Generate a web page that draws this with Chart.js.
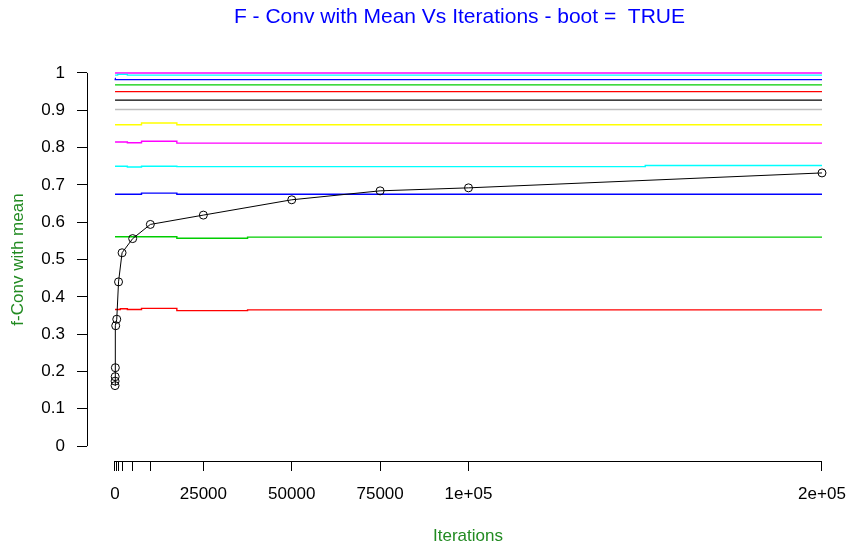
<!DOCTYPE html>
<html>
<head>
<meta charset="utf-8">
<script src="https://cdn.jsdelivr.net/npm/chart.js@4.4.1/dist/chart.umd.min.js"></script>
<style>
  body { margin: 0; background: #fff; }
</style>
</head>
<body>
<canvas id="myChart" width="849" height="548"></canvas>
<script>
// iterations and mean convergence (black line with circles)
const iterations = [10, 20, 50, 100, 200, 500, 1000, 2000, 5000, 10000, 25000, 50000, 75000, 100000, 200000];
const fConvMean = [0.162, 0.174, 0.186, 0.21, 0.3225, 0.34, 0.44, 0.518, 0.556, 0.594, 0.619, 0.66, 0.684, 0.692, 0.732];

// reference levels (coloured step lines), bottom to top
const level1 = [0.366, 0.366, 0.366, 0.366, 0.366, 0.366, 0.366, 0.368, 0.366, 0.369, 0.363, 0.365, 0.365, 0.365, 0.365];
const level2 = [0.561, 0.561, 0.561, 0.561, 0.561, 0.561, 0.561, 0.561, 0.561, 0.561, 0.557, 0.560, 0.560, 0.560, 0.560];
const level3 = [0.675, 0.675, 0.675, 0.675, 0.675, 0.675, 0.675, 0.675, 0.675, 0.678, 0.675, 0.675, 0.675, 0.675, 0.675];
const level4 = [0.750, 0.750, 0.750, 0.750, 0.750, 0.750, 0.750, 0.750, 0.748, 0.750, 0.749, 0.749, 0.749, 0.749, 0.752];
const level5 = [0.815, 0.815, 0.815, 0.815, 0.815, 0.815, 0.815, 0.815, 0.813, 0.817, 0.812, 0.812, 0.812, 0.812, 0.812];
const level6 = [0.861, 0.861, 0.861, 0.861, 0.861, 0.861, 0.861, 0.861, 0.861, 0.866, 0.861, 0.861, 0.861, 0.861, 0.861];
const level7 = [0.902, 0.902, 0.902, 0.902, 0.902, 0.902, 0.902, 0.902, 0.902, 0.902, 0.902, 0.902, 0.902, 0.902, 0.902];
const level8 = [0.927, 0.927, 0.927, 0.927, 0.927, 0.927, 0.927, 0.927, 0.927, 0.927, 0.927, 0.927, 0.927, 0.927, 0.927];
const level9 = [0.950, 0.950, 0.950, 0.950, 0.950, 0.950, 0.950, 0.950, 0.950, 0.950, 0.950, 0.950, 0.950, 0.950, 0.950];
const level10 = [0.968, 0.968, 0.968, 0.968, 0.968, 0.968, 0.968, 0.968, 0.968, 0.968, 0.968, 0.968, 0.968, 0.968, 0.968];
const level11 = [0.985, 0.985, 0.985, 0.982, 0.982, 0.982, 0.982, 0.982, 0.982, 0.982, 0.982, 0.982, 0.982, 0.982, 0.982];
const level12 = [0.994, 0.994, 0.994, 0.994, 0.994, 0.994, 0.996, 0.996, 0.994, 0.994, 0.994, 0.994, 0.994, 0.994, 0.994];
const level13 = [1.0, 1.0, 1.0, 1.0, 1.0, 1.0, 1.0, 1.0, 1.0, 1.0, 1.0, 1.0, 1.0, 1.0, 1.0];
const levels = [level1, level2, level3, level4, level5, level6, level7, level8, level9, level10, level11, level12, level13];

// tick values and labels
const xTicks = [0, 500, 1000, 2000, 5000, 10000, 25000, 50000, 75000, 100000, 200000];
const xTickLabels = ["0", "", "", "", "", "", "25000", "50000", "75000", "1e+05", "2e+05"];
const yTicks = [0, 0.1, 0.2, 0.3, 0.4, 0.5, 0.6, 0.7, 0.8, 0.9, 1];
const yTickLabels = ["0", "0.1", "0.2", "0.3", "0.4", "0.5", "0.6", "0.7", "0.8", "0.9", "1"];

const titleText = "F - Conv with Mean Vs Iterations - boot =  TRUE";
const levelColors = ["#FF0000", "#00CD00", "#0000FF", "#00FFFF", "#FF00FF", "#FFFF00", "#BEBEBE", "#000000",
                     "#FF0000", "#00CD00", "#0000FF", "#00FFFF", "#FF00FF"];
const FONT = "'Liberation Sans', Arial, sans-serif";
const labelGreen = "#228B22";

function toPoints(values) {
    return iterations.map((it, i) => ({ x: it, y: values[i] }));
}

const datasets = [{
    label: "mean",
    data: toPoints(fConvMean),
    borderColor: "#000000",
    borderWidth: 1,
    pointRadius: 4,
    pointBorderWidth: 1,
    pointBorderColor: "#000000",
    pointBackgroundColor: "rgba(0,0,0,0)",
    fill: false,
    tension: 0
}];
levels.forEach((lv, i) => {
    datasets.push({
        label: "level " + (i + 1),
        data: toPoints(lv),
        borderColor: levelColors[i],
        borderWidth: 1.4,
        pointRadius: 0,
        stepped: "middle",
        fill: false
    });
});

// R style axis lines that only span the first to last tick, plus the main title
const rDecor = {
    id: "rDecor",
    afterDraw(chart) {
        const ctx = chart.ctx;
        const xs = chart.scales.x, ys = chart.scales.y;
        const area = chart.chartArea;
        ctx.save();
        ctx.strokeStyle = "#000";
        ctx.lineWidth = 1;
        ctx.beginPath();
        ctx.moveTo(xs.getPixelForValue(0), Math.round(area.bottom) + 0.5);
        ctx.lineTo(xs.getPixelForValue(200000), Math.round(area.bottom) + 0.5);
        ctx.moveTo(Math.round(area.left) + 0.5, ys.getPixelForValue(0));
        ctx.lineTo(Math.round(area.left) + 0.5, ys.getPixelForValue(1));
        ctx.stroke();

        ctx.fillStyle = "#0000FF";
        ctx.font = "21px " + FONT;
        ctx.textAlign = "center";
        ctx.textBaseline = "middle";
        ctx.fillText(titleText, 459.5, 17);
        ctx.restore();
    }
};

function noPad(s) {
    s.paddingLeft = 0;
    s.paddingRight = 0;
    s.paddingTop = 0;
    s.paddingBottom = 0;
}

const ctx = document.getElementById("myChart").getContext("2d");
const myChart = new Chart(ctx, {
    type: "line",
    data: { datasets: datasets },
    plugins: [rDecor],
    options: {
        responsive: false,
        animation: false,
        devicePixelRatio: 1,
        layout: { padding: { top: 58, left: 0, right: 0, bottom: 0 }, autoPadding: false },
        plugins: {
            legend: { display: false },
            tooltip: { enabled: false },
            title: { display: false }
        },
        scales: {
            x: {
                type: "linear",
                min: -7920,
                max: 207640,
                afterBuildTicks: s => { s.ticks = xTicks.map(v => ({ value: v })); },
                afterFit: s => { s.height = 87; noPad(s); },
                ticks: {
                    autoSkip: false,
                    maxRotation: 0,
                    color: "#000",
                    padding: 13,
                    font: { family: FONT, size: 17 },
                    callback: (v, i) => xTickLabels[i]
                },
                grid: { drawOnChartArea: false, drawTicks: true, tickLength: 10, color: "#000" },
                border: { display: false },
                title: {
                    display: true,
                    text: "Iterations",
                    color: labelGreen,
                    font: { family: FONT, size: 17 },
                    padding: { top: 0, bottom: 1 }
                }
            },
            y: {
                type: "linear",
                min: -0.04,
                max: 1.04,
                afterBuildTicks: s => { s.ticks = yTicks.map(v => ({ value: v })); },
                afterFit: s => { s.width = 87; noPad(s); },
                ticks: {
                    autoSkip: false,
                    color: "#000",
                    padding: 12,
                    font: { family: FONT, size: 17 },
                    callback: (v, i) => yTickLabels[i]
                },
                grid: { drawOnChartArea: false, drawTicks: true, tickLength: 10, color: "#000" },
                border: { display: false },
                title: {
                    display: true,
                    text: "f-Conv with mean",
                    color: labelGreen,
                    font: { family: FONT, size: 17 },
                    padding: { top: 8, bottom: 0 }
                }
            }
        }
    }
});
</script>
</body>
</html>
